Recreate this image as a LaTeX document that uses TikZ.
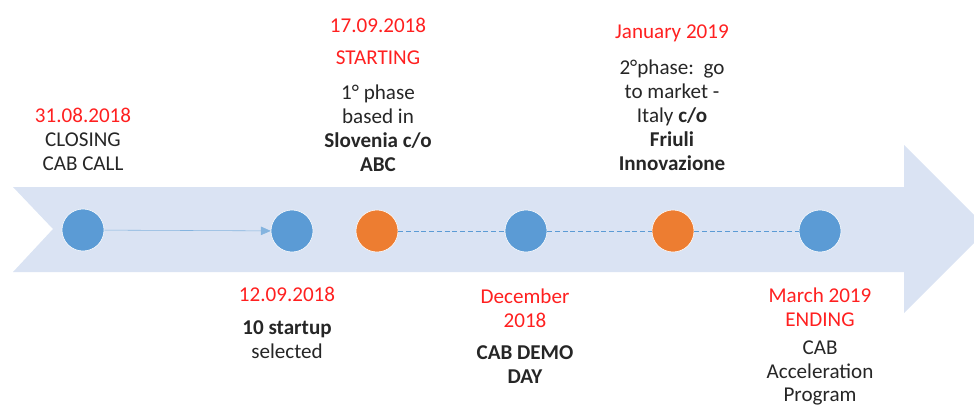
\documentclass[tikz,border=0pt]{standalone}
\usepackage{fontspec}
\setmainfont{Carlito}
\usetikzlibrary{arrows.meta}
\definecolor{bandblue}{HTML}{DAE3F3}
\definecolor{dotblue}{HTML}{5B9BD5}
\definecolor{dotorange}{HTML}{ED7D31}
\definecolor{datered}{HTML}{FF2020}
\definecolor{txtgrey}{HTML}{262626}
\tikzset{
  dot/.style={circle, fill=#1, draw=white, thin, minimum size=42*0.025cm, inner sep=0pt},
  datetxt/.style={text=datered, align=center, font=\fontsize{15}{17}\selectfont},
  desctxt/.style={text=txtgrey, align=center, font=\fontsize{15}{17}\selectfont},
  link/.style={dotblue, line width=0.6pt, dash pattern=on 3.5pt off 2pt}
}
\begin{document}
\begin{tikzpicture}[x=0.025cm, y=-0.025cm]
\useasboundingbox (0,0) rectangle (974,408);
\clip (0,0) rectangle (974,408);

% Timeline band
\fill[bandblue] (13,187) -- (904,187) -- (904,145) -- (988,229) -- (904,313)
  -- (904,272) -- (13,272) -- (53,229) -- cycle;

% Milestones
\node[dot=dotblue] (call) at (83,230) {};
\node[dot=dotblue] (select) at (292,231) {};
\node[dot=dotorange] (start) at (377,231) {};
\node[dot=dotblue] (demo) at (526,231) {};
\node[dot=dotorange] (market) at (673,231) {};
\node[dot=dotblue] (finish) at (820,231) {};

% Links
\draw[-{Triangle[length=7pt,width=6pt]}, dotblue!75, thin] (call) -- (select);
\draw[link] (start) -- (demo);
\draw[link] (demo) -- (market);
\draw[link] (market) -- (finish);

% Labels above
\node[desctxt] (call_txt) at (83,139) {\textcolor{datered}{31.08.2018}\\CLOSING\\CAB CALL};
\node[datetxt] (start_date) at (378,25) {17.09.2018};
\node[datetxt] (start_tag) at (378,58) {STARTING};
\node[desctxt] (start_txt) at (378,128) {1° phase\\based in\\\textbf{Slovenia c/o}\\\textbf{ABC}};
\node[datetxt] (market_date) at (672,33) {January 2019};
\node[desctxt] (market_txt) at (672,115) {2°phase:\ \ go\\to market -\\Italy \textbf{c/o}\\\textbf{Friuli}\\\textbf{Innovazione}};

% Labels below
\node[datetxt] (select_date) at (287,294) {12.09.2018};
\node[desctxt] (select_txt) at (287,340) {\textbf{10 startup}\\selected};
\node[datetxt] (demo_date) at (525,308) {December\\2018};
\node[desctxt] (demo_txt) at (525,365) {\textbf{CAB DEMO}\\\textbf{DAY}};
\node[datetxt] (finish_date) at (820,307) {March 2019\\ENDING};
\node[desctxt] (finish_txt) at (820,373) {CAB\\Acceleration\\Program};
\end{tikzpicture}
\end{document}
